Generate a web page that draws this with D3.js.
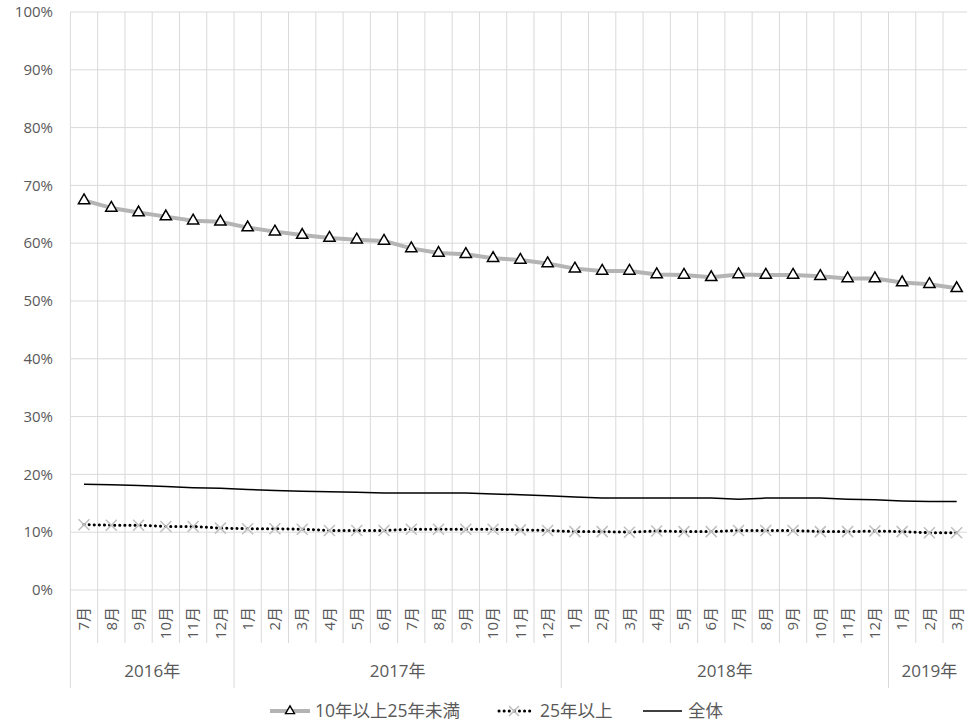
<!DOCTYPE html>
<html>
<head>
<meta charset="utf-8">
<script src="https://cdn.jsdelivr.net/npm/d3@7"></script>
<style>
  html, body { margin: 0; padding: 0; background: #fff; }
  svg { display: block; font-family: "Open Sans", "Noto Sans CJK JP", sans-serif; }
</style>
</head>
<body>
<svg id="chart" width="967" height="723"></svg>
<script>
// Months (2016-07 .. 2019-03), grouped by year
const years = [
  { label: "2016年", months: ["7月","8月","9月","10月","11月","12月"] },
  { label: "2017年", months: ["1月","2月","3月","4月","5月","6月","7月","8月","9月","10月","11月","12月"] },
  { label: "2018年", months: ["1月","2月","3月","4月","5月","6月","7月","8月","9月","10月","11月","12月"] },
  { label: "2019年", months: ["1月","2月","3月"] }
];

const seriesNames = ["10年以上25年未満", "25年以上", "全体"];

// Shares in percent
const mid = [67.4, 66.1, 65.3, 64.6, 63.9, 63.7,
             62.7, 62.0, 61.4, 60.9, 60.6, 60.4, 59.1, 58.3, 58.1, 57.4, 57.1, 56.5,
             55.6, 55.2, 55.2, 54.6, 54.5, 54.1, 54.6, 54.5, 54.5, 54.3, 53.9, 53.9,
             53.2, 52.9, 52.2];
const long = [11.3, 11.2, 11.2, 11.0, 11.0, 10.7,
              10.6, 10.6, 10.5, 10.3, 10.3, 10.3, 10.5, 10.5, 10.5, 10.5, 10.4, 10.3,
              10.1, 10.1, 10.0, 10.2, 10.1, 10.1, 10.3, 10.3, 10.3, 10.1, 10.1, 10.2,
              10.1, 9.9, 9.9];
const total = [18.3, 18.2, 18.1, 17.9, 17.7, 17.6,
               17.4, 17.2, 17.1, 17.0, 16.9, 16.8, 16.8, 16.8, 16.8, 16.6, 16.5, 16.3,
               16.1, 15.9, 15.9, 15.9, 15.9, 15.9, 15.7, 15.9, 15.9, 15.9, 15.7, 15.6,
               15.4, 15.3, 15.3];

const yTicks = [0, 10, 20, 30, 40, 50, 60, 70, 80, 90, 100];

// Flatten categories
const cats = [];
years.forEach((yr, yi) => yr.months.forEach((m, mi) => cats.push({ key: yi + "-" + mi, month: m, year: yi })));

const svg = d3.select("#chart");
const plotLeft = 70.4, plotTop = 12, plotBottom = 590;
const band = 27.27;
const plotRight = plotLeft + band * cats.length;

const x = d3.scaleBand().domain(cats.map(c => c.key)).range([plotLeft, plotRight]).padding(0);
const y = d3.scaleLinear().domain([0, 100]).range([plotBottom, plotTop]);

const gridColor = "#d9d9d9";
const textColor = "#595959";

// Horizontal gridlines
svg.append("g").selectAll("line").data(yTicks).join("line")
  .attr("x1", plotLeft).attr("x2", plotRight)
  .attr("y1", d => y(d)).attr("y2", d => y(d))
  .attr("stroke", gridColor).attr("stroke-width", 1);

// Category boundaries: gridlines in the plot, ticks below; year boundaries run longer
const yearStart = new Set();
let acc = 0;
years.forEach(yr => { yearStart.add(acc); acc += yr.months.length; });
yearStart.add(cats.length);
const bounds = d3.range(cats.length + 1);
svg.append("g").selectAll("line").data(bounds).join("line")
  .attr("x1", i => plotLeft + i * band).attr("x2", i => plotLeft + i * band)
  .attr("y1", plotTop)
  .attr("y2", i => yearStart.has(i) ? 688 : 643)
  .attr("stroke", gridColor).attr("stroke-width", 1);

// Y axis labels
svg.append("g").selectAll("text").data(yTicks).join("text")
  .attr("x", 53).attr("y", d => y(d))
  .attr("dy", "0.35em")
  .attr("text-anchor", "end")
  .attr("fill", textColor).attr("font-size", 15)
  .text(d => d + "%");

// Month labels, rotated
svg.append("g").selectAll("text").data(cats).join("text")
  .attr("transform", d => `translate(${x(d.key) + x.bandwidth() / 2},607) rotate(-90)`)
  .attr("text-anchor", "end")
  .attr("dy", "0.35em")
  .attr("fill", textColor).attr("font-size", 15)
  .text(d => d.month);

// Year labels centred in their groups
acc = 0;
const yearPos = years.map(yr => {
  const s = acc; acc += yr.months.length;
  return { label: yr.label, cx: plotLeft + (s + yr.months.length / 2) * band };
});
svg.append("g").selectAll("text").data(yearPos).join("text")
  .attr("x", d => d.cx).attr("y", 671)
  .attr("dy", "0.35em")
  .attr("text-anchor", "middle")
  .attr("fill", textColor).attr("font-size", 17)
  .text(d => d.label);

const cx = i => x(cats[i].key) + x.bandwidth() / 2;
const line = d3.line().x((d, i) => cx(i)).y(d => y(d));

// 全体: thin solid black line
svg.append("path").datum(total)
  .attr("d", line).attr("fill", "none")
  .attr("stroke", "#000").attr("stroke-width", 1.5);

// 25年以上: round dotted black line with light grey crosses
svg.append("path").datum(long)
  .attr("d", line).attr("fill", "none")
  .attr("stroke", "#000").attr("stroke-width", 3)
  .attr("stroke-linecap", "round")
  .attr("stroke-dasharray", "0.1 5");

const crossPath = (cx0, cy0, r) => `M${cx0 - r},${cy0 - r}L${cx0 + r},${cy0 + r}M${cx0 - r},${cy0 + r}L${cx0 + r},${cy0 - r}`;
svg.append("g").selectAll("path").data(long).join("path")
  .attr("d", (d, i) => crossPath(cx(i), y(d), 5.5))
  .attr("stroke", "#bfbfbf").attr("stroke-width", 1.5).attr("fill", "none");

// 10年以上25年未満: thick grey line with white triangles
svg.append("path").datum(mid)
  .attr("d", line).attr("fill", "none")
  .attr("stroke", "#b4b4b4").attr("stroke-width", 4)
  .attr("stroke-linejoin", "round");

const tri = d3.symbol().type(d3.symbolTriangle).size(55);
svg.append("g").selectAll("path").data(mid).join("path")
  .attr("transform", (d, i) => `translate(${cx(i)},${y(d)})`)
  .attr("d", tri)
  .attr("fill", "#fff").attr("stroke", "#000").attr("stroke-width", 1.5);

// Legend
const ly = 711;
const legendFont = 17.5;
const lg = svg.append("g");
// item 1
lg.append("line").attr("x1", 270).attr("x2", 310).attr("y1", ly).attr("y2", ly)
  .attr("stroke", "#b4b4b4").attr("stroke-width", 4);
lg.append("path").attr("transform", `translate(290,${ly})`).attr("d", d3.symbol().type(d3.symbolTriangle).size(35))
  .attr("fill", "#fff").attr("stroke", "#000").attr("stroke-width", 1.4);
lg.append("text").attr("x", 315).attr("y", ly).attr("dy", "0.35em")
  .attr("fill", textColor).attr("font-size", legendFont).text(seriesNames[0]);
// item 2
lg.append("line").attr("x1", 499).attr("x2", 531).attr("y1", ly).attr("y2", ly)
  .attr("stroke", "#000").attr("stroke-width", 3)
  .attr("stroke-linecap", "round").attr("stroke-dasharray", "0.1 5");
lg.append("path").attr("d", crossPath(514, ly, 5))
  .attr("stroke", "#bfbfbf").attr("stroke-width", 1.5).attr("fill", "none");
lg.append("text").attr("x", 540).attr("y", ly).attr("dy", "0.35em")
  .attr("fill", textColor).attr("font-size", legendFont).text(seriesNames[1]);
// item 3
lg.append("line").attr("x1", 643).attr("x2", 682).attr("y1", ly).attr("y2", ly)
  .attr("stroke", "#000").attr("stroke-width", 1.5);
lg.append("text").attr("x", 688).attr("y", ly).attr("dy", "0.35em")
  .attr("fill", textColor).attr("font-size", legendFont).text(seriesNames[2]);
</script>
</body>
</html>
